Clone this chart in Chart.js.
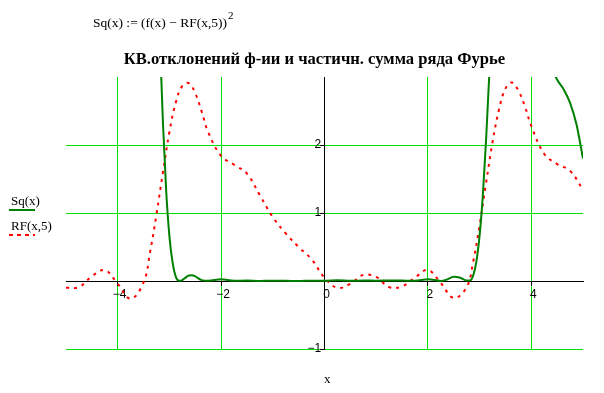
<!DOCTYPE html>
<html>
<head>
<meta charset="utf-8">
<script src="https://cdn.jsdelivr.net/npm/chart.js@4.4.0/dist/chart.umd.min.js"></script>
<style>
  body { margin: 0; background: #fff; }
  #wrap { position: relative; width: 604px; height: 393px; font-family: "Liberation Serif", "Times New Roman", serif; color: #000; }
  #wrap canvas { position: absolute; left: 0; top: 0; }
  #wrap div { position: absolute; white-space: nowrap; }
  #formula { left: 93px; top: 16px; font-size: 13.5px; line-height: 14px; }
  #formula span { position: relative; top: -8px; font-size: 11px; margin-left: 1px; }
  #title { left: 0; width: 629px; top: 51px; text-align: center; font-size: 16.6px; font-weight: bold; line-height: 16px; }
  .leg { left: 11px; font-size: 13px; line-height: 13px; }
  .legline { left: 9px; width: 26px; height: 2px; }
  #xtitle { left: 324px; top: 372px; font-size: 13px; line-height: 13px; }
</style>
</head>
<body>
<div id="wrap">
  <canvas id="chart" width="604" height="393"></canvas>
  <div id="formula">Sq(x) := (f(x) − RF(x,5))<span>2</span></div>
  <div id="title">КВ.отклонений ф-ии и частичн. сумма ряда Фурье</div>
  <div class="leg" style="top:194px">Sq(x)</div>
  <div class="legline" style="top:209px;background:#008000"></div>
  <div class="leg" style="top:219px">RF(x,5)</div>
  <div class="legline" style="top:234px;background:repeating-linear-gradient(90deg,#f00 0 4px,transparent 4px 8px)"></div>
  <div id="xtitle">x</div>
</div>
<script>
// partial Fourier sum RF(x,5)
const rfX = [-5, -4.75, -4.5, -4.25, -4, -3.75, -3.5, -3.375, -3.25, -3.125, -3, -2.875, -2.75, -2.625, -2.5, -2.375, -2.25,
             -2, -1.75, -1.5, -1.25, -1, -0.75, -0.5, -0.25, 0, 0.25, 0.5, 0.75, 1, 1.25, 1.5, 1.75, 2, 2.25, 2.5,
             2.75, 2.875, 3, 3.125, 3.25, 3.375, 3.5, 3.625, 3.75, 3.875, 4, 4.25, 4.5, 4.75, 5];
const rfY = [-0.10, -0.09, 0.07, 0.16, -0.04, -0.26, -0.02, 0.42, 0.98, 1.60, 2.19, 2.63, 2.87, 2.91, 2.76, 2.49, 2.19,
             1.84, 1.71, 1.58, 1.26, 0.94, 0.70, 0.50, 0.32, 0.05, -0.10, -0.04, 0.09, 0.06, -0.09, -0.08, 0.05, 0.16, -0.03, -0.25,
             -0.09, 0.28, 0.82, 1.44, 2.04, 2.52, 2.83, 2.92, 2.80, 2.57, 2.28, 1.87, 1.72, 1.62, 1.34];

// squared deviation Sq(x)
const sqX = [-5, -4.75, -4.5, -4.25, -4, -3.75, -3.5, -3.375, -3.25, -3.1875, -3.125, -3.0625, -3, -2.9375, -2.875, -2.8125,
             -2.75, -2.6875, -2.625, -2.5625, -2.5, -2.375, -2.25, -2, -1.75, -1.5, -1.25, -1, -0.75, -0.5, -0.25, 0,
             0.25, 0.5, 0.75, 1, 1.25, 1.5, 1.75, 2, 2.25, 2.375, 2.5, 2.625, 2.75, 2.8125, 2.875, 2.9375, 3, 3.0625,
             3.125, 3.1875, 3.25, 3.375, 3.5, 3.75, 4, 4.25, 4.375, 4.5, 4.625, 4.75, 4.875, 5];
const sqY = [26.0, 23.4, 19.6, 16.7, 16.3, 16.1, 12.4, 8.73, 5.15, 3.61, 2.33, 1.33, 0.66, 0.27, 0.06, 0.002,
             0.014, 0.05, 0.081, 0.084, 0.068, 0.013, 0.004, 0.026, 0.002, 0.006, 0, 0.004, 0.003, 0, 0.005, 0.003,
             0.01, 0.002, 0.008, 0.004, 0.008, 0.006, 0.003, 0.026, 0.001, 0.023, 0.063, 0.048, 0.008, 0.006, 0.078, 0.285, 0.67, 1.26,
             2.07, 3.04, 4.16, 6.35, 8.0, 7.84, 5.2, 3.5, 3.17, 2.96, 2.82, 2.62, 2.3, 1.80];

const xTicks = [-4, -2, 0, 2, 4];
const yTicks = [-1, 0, 1, 2];

const gridGreen = '#00e000';
const tickFont = { family: '"Liberation Sans", Arial, sans-serif', size: 12 };
const fmt = v => (v < 0 ? '\u2212' : '') + Math.abs(v);
// green grid everywhere except the zero lines, which are the black axes
const gridColors = ticks => ticks.map(v => (v === 0 ? '#000000' : gridGreen));

new Chart(document.getElementById('chart'), {
    type: 'scatter',
    data: {
        datasets: [{
            label: 'Sq(x)',
            data: sqX.map((x, i) => ({ x, y: sqY[i] })),
            showLine: true,
            borderColor: '#008000',
            borderWidth: 2,
            pointRadius: 0,
            cubicInterpolationMode: 'monotone'
        }, {
            label: 'RF(x,5)',
            data: rfX.map((x, i) => ({ x, y: rfY[i] })),
            showLine: true,
            borderColor: '#ff0000',
            borderWidth: 2,
            borderDash: [3, 5],
            pointRadius: 0,
            tension: 0.4
        }]
    },
    options: {
        responsive: false,
        animation: false,
        layout: { padding: { left: 66, right: 21, top: 77, bottom: 44 } },
        plugins: { legend: { display: false }, title: { display: false }, tooltip: { enabled: false } },
        scales: {
            x: {
                type: 'linear', min: -5, max: 5,
                position: { y: 0 },
                afterBuildTicks: s => { s.ticks = xTicks.map(v => ({ value: v })); },
                grid: { color: gridColors(xTicks), tickColor: '#000000', tickLength: 4 },
                border: { color: '#000000' },
                ticks: { font: tickFont, color: '#000', padding: 2, labelOffset: 2, maxRotation: 0, autoSkip: false, callback: v => fmt(v) }
            },
            y: {
                type: 'linear', min: -1, max: 3,
                position: { x: 0 },
                afterBuildTicks: s => { s.ticks = yTicks.map(v => ({ value: v })); },
                grid: { color: gridColors(yTicks), tickColor: '#000000', tickLength: 4 },
                border: { color: '#000000' },
                ticks: { font: tickFont, color: '#000', padding: 2, autoSkip: false, callback: v => (v === 0 ? '' : fmt(v) + ' ') }
            }
        }
    }
});
</script>
</body>
</html>
